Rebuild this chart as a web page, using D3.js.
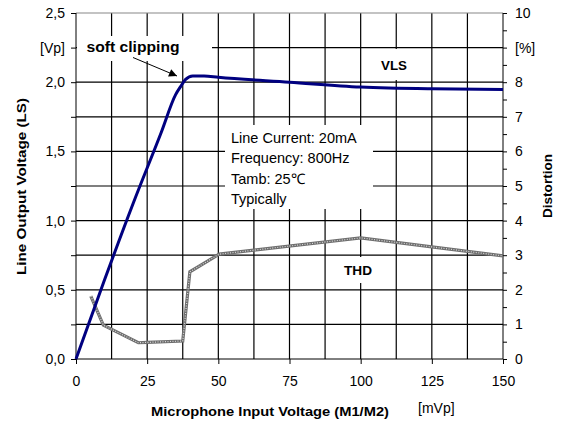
<!DOCTYPE html>
<html><head><meta charset="utf-8">
<script src="https://cdn.jsdelivr.net/npm/d3@7"></script>
<style>body{margin:0;background:#fff}text{font-family:"Liberation Sans",Arial,sans-serif}</style>
</head><body><svg id="c" width="561" height="423"></svg>
<script>
// Data
const vlsX = [0, 10, 20, 30, 35, 36.8, 38.5, 41, 45, 50, 75, 100, 125, 150];
const vlsY = [0, 0.57, 1.12, 1.64, 1.91, 1.97, 2.02, 2.045, 2.045, 2.035, 2.0, 1.965, 1.952, 1.948];
const thdX = [5.2, 9.6, 21.9, 25, 37.5, 40, 50.3, 100, 150];
const thdY = [1.82, 0.98, 0.47, 0.48, 0.52, 2.52, 3.03, 3.5, 2.98];
const xTicks = [0, 25, 50, 75, 100, 125, 150];
const gridX = [12.5, 25, 37.5, 50, 62.5, 75, 87.5, 100, 112.5, 125, 137.5];
const gridY = [1, 2, 3, 4, 5, 6, 7, 8, 9];
const leftTicks = [0, 0.5, 1.0, 1.5, 2.0, 2.25, 2.5];
const leftLabels = ["0,0", "0,5", "1,0", "1,5", "2,0", "[Vp]", "2,5"];
const rightTicks = [0,1,2,3,4,5,6,7,8,9,10];
const rightLabels = ["0","1","2","3","4","5","6","7","8","[%]","10"];
const infoLines = ["Line Current: 20mA", "Frequency: 800Hz", "Tamb: 25\u2103", "Typically"];

const svg = d3.select("#c");
const L = 76, R = 503, T = 13, B = 359;
const x = d3.scaleLinear().domain([0,150]).range([L,R]);
const yL = d3.scaleLinear().domain([0,2.5]).range([B,T]);
const yR = d3.scaleLinear().domain([0,10]).range([B,T]);

const g = svg.append("g");

// grid
const gridG = g.append("g");
gridG.selectAll("line.gv").data(gridX).enter().append("line").attr("class","gv")
  .attr("x1",d=>x(d)).attr("x2",d=>x(d)).attr("y1",T).attr("y2",B)
  .attr("stroke","black").attr("stroke-width",1.2);
gridG.selectAll("line.gh").data(gridY).enter().append("line").attr("class","gh")
  .attr("y1",d=>yR(d)).attr("y2",d=>yR(d)).attr("x1",L).attr("x2",R)
  .attr("stroke","black").attr("stroke-width",1.2);
gridG.append("line").attr("x1",L).attr("x2",R).attr("y1",T).attr("y2",T)
  .attr("stroke","#888").attr("stroke-width",1.2);

// white boxes behind labels
const boxes = [[77,36,212,61],[225,125,373,209],[377,49,416,80],[340,257,378,283]];
g.selectAll("rect.bx").data(boxes).enter().append("rect").attr("class","bx")
  .attr("x",d=>d[0]).attr("y",d=>d[1]).attr("width",d=>d[2]-d[0]).attr("height",d=>d[3]-d[1])
  .attr("fill","white");

// axes
const ax = g.append("g").attr("transform",`translate(0,${B})`)
  .call(d3.axisBottom(x).tickValues(xTicks).tickSize(5).tickPadding(12).tickFormat(d3.format("d")));
const al = g.append("g").attr("transform",`translate(${L},0)`)
  .call(d3.axisLeft(yL).tickValues(leftTicks.concat([0.25,0.75,1.25,1.75])).tickSize(5).tickPadding(6)
    .tickFormat(d=>{const i=leftTicks.indexOf(d);return i>=0?leftLabels[i]:"";}));
const ar = g.append("g").attr("transform",`translate(${R},0)`)
  .call(d3.axisRight(yR).tickValues(d3.range(0,10.5,0.5)).tickSize(4).tickPadding(8)
    .tickFormat(d=>{const i=rightTicks.indexOf(d);return i>=0?rightLabels[i]:"";}));
[ax,al,ar].forEach(a=>{
  a.select(".domain").attr("stroke","#000");
  a.selectAll(".tick line").attr("stroke","#000");
  a.selectAll("text").attr("font-size",14).attr("fill","#000").style("font-family","Liberation Sans, Arial");
});
al.select(".domain").attr("d",`M0,${T}V${B}`);
ar.select(".domain").attr("d",`M0,${T}V${B}`);
ax.select(".domain").attr("d",`M${L},0H${R}`);

// THD line
const thdData = thdX.map((d,i)=>[d,thdY[i]]);
const lt = d3.line().x(d=>x(d[0])).y(d=>yR(d[1]));
g.append("path").attr("d",lt(thdData)).attr("fill","none").attr("stroke","#6e6e6e").attr("stroke-width",3.2);
g.append("path").attr("d",lt(thdData)).attr("fill","none").attr("stroke","#d8d8d8").attr("stroke-width",1.2).attr("stroke-dasharray","1,1.5");

// VLS line
const vlsData = vlsX.map((d,i)=>[d,vlsY[i]]);
const lv = d3.line().x(d=>x(d[0])).y(d=>yL(d[1])).curve(d3.curveMonotoneX);
g.append("path").attr("d",lv(vlsData)).attr("fill","none").attr("stroke","#000080").attr("stroke-width",3).attr("stroke-linejoin","round");

// labels
const txt = (s,xx,yy,opt={})=>{
  const t=g.append("text").attr("x",xx).attr("y",yy).text(s)
    .attr("font-size",opt.size||13).attr("font-weight",opt.bold?"bold":"normal")
    .attr("text-anchor",opt.anchor||"start").attr("fill","#000");
  if(opt.len) t.attr("textLength",opt.len).attr("lengthAdjust","spacingAndGlyphs");
  if(opt.rot) t.attr("transform",`rotate(${opt.rot},${xx},${yy})`);
  return t;
};
txt("soft clipping",86.5,52,{bold:true,size:14,len:93});
txt("VLS",381,70,{bold:true,size:13,len:26});
txt("THD",344,275,{bold:true,size:13,len:28});
infoLines.forEach((s,i)=>txt(s,231,143+i*20.3,{size:14.5}));
txt("Line Output Voltage (LS)",26,186.5,{bold:true,size:13,anchor:"middle",rot:-90,len:177});
txt("Distortion",552,186,{bold:true,size:12,anchor:"middle",rot:-90,len:64});
txt("Microphone Input Voltage (M1/M2)",270,416,{bold:true,size:13,anchor:"middle",len:238});
txt("[mVp]",418,413,{size:14});

// arrow
const defs = svg.append("defs");
defs.append("marker").attr("id","ah").attr("viewBox","0 0 10 10").attr("refX",10).attr("refY",5)
  .attr("markerWidth",10).attr("markerHeight",8).attr("markerUnits","userSpaceOnUse").attr("orient","auto")
  .append("path").attr("d","M0,0L10,5L0,10z").attr("fill","#000");
g.append("path").attr("d",`M133,57.5L177,76`)
  .attr("stroke","#000").attr("stroke-width",1).attr("fill","none").attr("marker-end","url(#ah)");
</script></body></html>
